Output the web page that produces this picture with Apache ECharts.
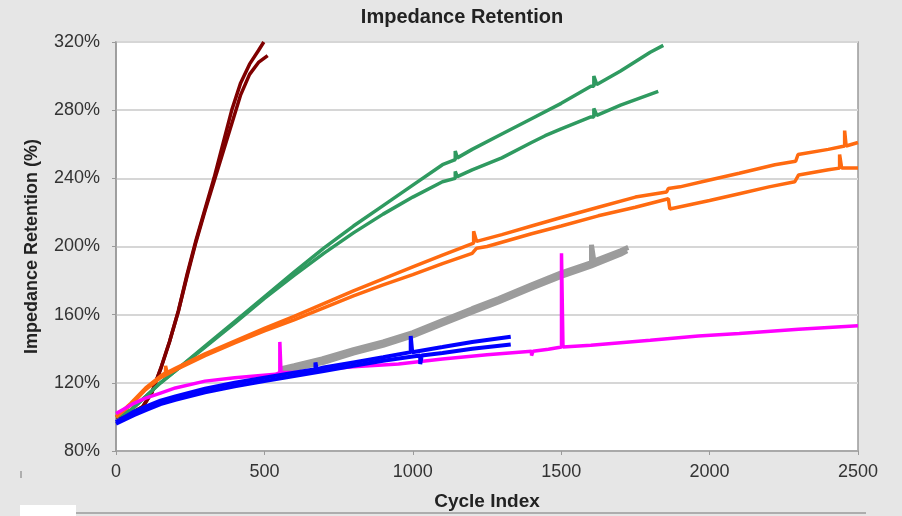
<!DOCTYPE html>
<html>
<head>
<meta charset="utf-8">
<script src="https://cdn.jsdelivr.net/npm/echarts@6/dist/echarts.min.js"></script>
<style>
html, body { margin: 0; padding: 0; background: #e6e6e6; }
#chart { width: 902px; height: 516px; }
</style>
</head>
<body>
<div id="chart"></div>
<script>
// 阻抗保持率 - 各电芯循环数据 [循环次数, 百分比]
var xTicks = [0, 500, 1000, 1500, 2000, 2500];
var yTicks = [80, 120, 160, 200, 240, 280, 320];

var darkRedA = [[0,100],[30,101],[60,103],[90,106],[120,114],[150,128],[180,144],[210,162],[240,184],[270,204],[300,222],[330,240],[360,260],[390,280],[420,296],[450,307],[480,315],[498,320]];
var darkRedB = [[0,100],[30,101],[60,103],[90,106],[120,114],[150,128],[180,144],[210,162],[240,183],[270,203],[300,221],[330,238],[360,255],[390,272],[420,289],[450,301],[480,308],[511,312]];

var greenA = [[0,100],[50,104],[100,112],[150,120],[200,127],[300,141.5],[400,156],[500,170.5],[600,185],[700,199],[800,212],[900,224],[1000,236],[1100,248],[1143,251],[1143,256],[1150,252],[1200,257],[1300,266],[1400,275],[1500,284],[1600,294],[1610,294],[1610,300],[1620,295],[1700,303],[1800,314],[1844,318]];
var greenB = [[0,100],[50,104],[100,112],[150,120],[200,127],[300,141],[400,155],[500,169.5],[600,183],[700,196],[800,208],[900,219],[1000,229],[1100,238],[1143,240],[1143,244],[1150,241],[1200,245],[1300,252],[1400,261],[1446,265],[1500,269],[1600,276],[1610,276],[1610,281],[1620,277],[1700,283],[1827,291]];

var orangeA = [[0,100],[50,108],[100,117],[150,124],[167,126],[167,130],[172,126],[200,128.5],[300,137],[400,144.5],[500,152],[600,159],[700,166.5],[800,174],[900,181],[1000,188],[1100,195],[1205,202],[1205,209],[1215,203],[1300,207],[1400,212],[1500,217],[1625,223],[1750,229],[1855,232],[1861,234],[1900,235],[2000,239],[2100,243],[2220,248],[2290,250],[2298,254],[2400,257],[2455,259],[2455,268],[2460,259],[2500,261]];
var orangeB = [[0,100],[50,107],[100,116],[150,123],[200,127.5],[300,136],[400,143.5],[500,150.5],[600,157],[700,164],[800,171],[900,177.5],[1000,183.5],[1100,190],[1200,196],[1215,199],[1250,200],[1300,202.5],[1400,207.5],[1500,212],[1625,218],[1750,223],[1861,228],[1866,222],[2000,227],[2100,231],[2200,235],[2287,238],[2300,242],[2400,245],[2438,246],[2438,254],[2445,246],[2500,246]];

var greyA = [[550,128],[600,130],[694,134],[800,139.5],[900,144],[1000,149.5],[1100,156.5],[1200,163.5],[1289,169.5],[1400,177.5],[1500,184.5],[1602,190.5],[1602,201],[1610,191.5],[1700,197.5],[1726,199.5]];
var greyB = [[560,127],[620,129],[700,132],[800,137.5],[900,142],[1000,147.5],[1100,154.5],[1200,161.5],[1289,167.5],[1400,175.5],[1500,182.5],[1600,188.5],[1700,195.5],[1722,197.5]];

var magentaA = [[0,102],[30,105],[60,108],[100,111],[150,114],[200,117],[300,121],[400,123],[537,125],[552,126],[552,144],[556,126],[600,126],[700,128],[800,129.5],[952,131],[1100,134],[1250,136.5],[1400,138.5],[1400,136],[1405,138.5],[1457,139.7],[1501,141],[1501,196],[1506,141],[1600,142],[1800,145],[1962,147.5],[2100,149],[2300,151.5],[2500,153.5]];

var blueA = [[0,97],[30,100],[60,103],[100,106],[150,109.5],[200,112],[300,116.5],[400,120],[500,123],[600,126],[672,128],[672,132],[676,128],[700,129],[800,132],[900,135],[993,138],[993,147.5],[998,138],[1100,141],[1200,144],[1330,147]];
var blueB = [[0,96],[30,98.5],[60,101],[100,104],[150,107.5],[200,110],[300,114.5],[400,118],[500,121],[600,124],[700,127],[800,130],[900,133],[1000,135.5],[1025,136],[1025,131],[1030,136],[1100,137.5],[1200,140],[1330,142.5]];

var chart = echarts.init(document.getElementById('chart'));

function line(name, data, color, w) {
    return {
        name: name,
        type: 'line',
        data: data,
        showSymbol: false,
        symbol: 'none',
        lineStyle: { color: color, width: w || 3 },
        itemStyle: { color: color },
        z: 3
    };
}

var option = {
    backgroundColor: '#e6e6e6',
    animation: false,
    title: {
        text: 'Impedance Retention',
        left: 457,
        top: 2,
        textAlign: 'center',
        textStyle: { fontFamily: 'Liberation Sans', fontSize: 20, fontWeight: 'bold', color: '#222' }
    },
    grid: {
        left: 116, right: 44, top: 42, bottom: 64,
        show: true,
        backgroundColor: '#ffffff',
        borderColor: '#9a9a9a',
        borderWidth: 1.5
    },
    xAxis: {
        type: 'value',
        min: xTicks[0],
        max: xTicks[xTicks.length - 1],
        interval: 500,
        name: 'Cycle Index',
        nameLocation: 'middle',
        nameGap: 41,
        nameTextStyle: { fontFamily: 'Liberation Sans', fontSize: 19, fontWeight: 'bold', color: '#222' },
        axisLine: { show: true, lineStyle: { color: '#9a9a9a', width: 1.5 } },
        axisTick: { show: true, length: 4, lineStyle: { color: '#9a9a9a' } },
        axisLabel: { margin: 12, fontFamily: 'Liberation Sans', fontSize: 18, color: '#333',
            formatter: function (v) { return String(v); } },
        splitLine: { show: false }
    },
    yAxis: {
        type: 'value',
        min: yTicks[0],
        max: yTicks[yTicks.length - 1],
        interval: 40,
        name: 'Impedance Retention (%)',
        nameLocation: 'middle',
        nameGap: 75,
        nameTextStyle: { fontFamily: 'Liberation Sans', fontSize: 18, fontWeight: 'bold', color: '#222' },
        axisLine: { show: true, lineStyle: { color: '#9a9a9a', width: 1.5 } },
        axisTick: { show: true, length: 4, lineStyle: { color: '#9a9a9a' } },
        axisLabel: { margin: 16, fontFamily: 'Liberation Sans', fontSize: 18, color: '#333', formatter: '{value}%' },
        splitLine: { show: true, lineStyle: { color: '#d6d6d6', width: 2 } }
    },
    graphic: [
        { type: 'rect', left: 20, top: 505, shape: { width: 56, height: 11 }, style: { fill: '#ffffff' } },
        { type: 'line', shape: { x1: 76, y1: 513, x2: 866, y2: 513 }, style: { stroke: '#9a9a9a', lineWidth: 1.5 } },
        { type: 'line', shape: { x1: 21, y1: 471, x2: 21, y2: 478 }, style: { stroke: '#777', lineWidth: 1 } }
    ],
    series: [
        line('Dark red 1', darkRedA, '#7f0000', 3.5),
        line('Dark red 2', darkRedB, '#7f0000', 3.5),
        line('Green 1', greenA, '#2f9a60', 3.5),
        line('Green 2', greenB, '#2f9a60', 3.5),
        line('Orange 1', orangeA, '#ff6a10', 3.5),
        line('Orange 2', orangeB, '#ff6a10', 3.5),
        line('Grey 1', greyA, '#9c9c9c', 5),
        line('Grey 2', greyB, '#9c9c9c', 5),
        line('Magenta', magentaA, '#ff00ff', 3.5),
        line('Blue 1', blueA, '#0000ff', 4),
        line('Blue 2', blueB, '#0000ff', 4)
    ]
};

chart.setOption(option);
window.onresize = chart.resize;
</script>
</body>
</html>
